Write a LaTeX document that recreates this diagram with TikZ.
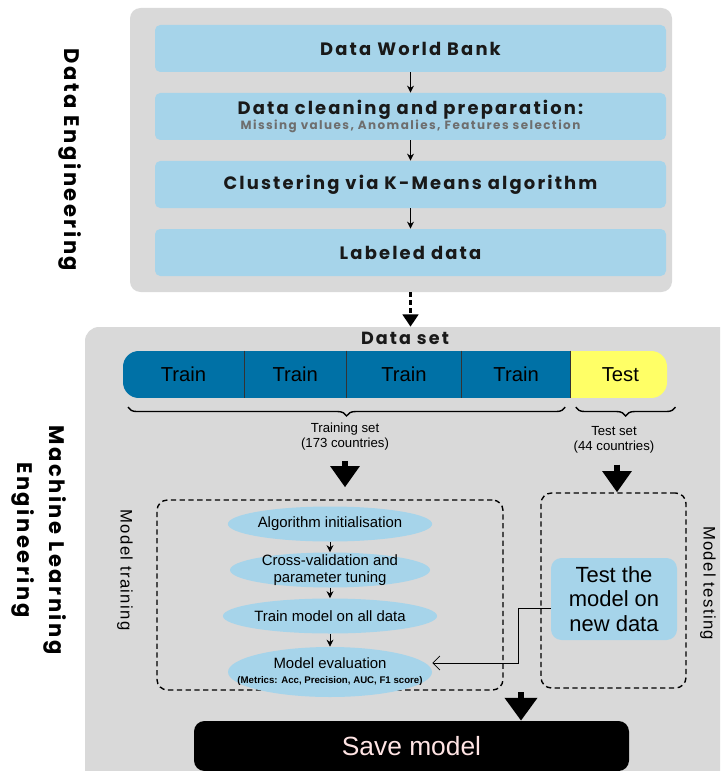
\documentclass[tikz,border=0pt]{standalone}
\usepackage{fontspec}
\setmainfont{Liberation Sans}
\newfontfamily\headfont{Poppins}[LetterSpace=12]
\newfontfamily\sidefont{Liberation Sans}[LetterSpace=8]
\definecolor{panelgrey}{RGB}{217, 217, 217}
\definecolor{skyblue}{RGB}{166, 212, 234}
\definecolor{trainblue}{RGB}{0, 113, 166}
\definecolor{testyellow}{RGB}{255, 255, 102}
\definecolor{titleink}{RGB}{25, 25, 25}
\definecolor{subgrey}{RGB}{110, 110, 110}
\definecolor{saveink}{RGB}{255, 228, 228}
\usepackage{tikz}
\usetikzlibrary{shapes, arrows.meta, positioning, calc, decorations.pathreplacing}

\begin{document}
\begin{tikzpicture}[
    stepbox/.style={fill=skyblue, rounded corners=3pt, minimum width=10.22cm, minimum height=0.94cm, inner sep=0pt, align=center, text=titleink, font=\headfont\bfseries\fontsize{10.2}{10.5}\selectfont},
    phase/.style={ellipse, fill=skyblue, inner sep=0pt, minimum width=4cm, minimum height=0.7cm, align=center, font=\fontsize{8.5}{9.5}\selectfont},
    segment/.style={minimum height=0.94cm, inner sep=0pt, font=\fontsize{11.5}{13}\selectfont},
    bigarrow/.style={line width=3pt, -{Triangle[width=16pt, length=12pt]}},
    smallarrow/.style={thick, -{Stealth[length=4pt, width=4pt]}},
    dashbox/.style={draw, line width=0.8pt, dash pattern=on 3pt off 2pt, rounded corners=6pt},
    sidelabel/.style={rotate=-90, align=center, text=black, font=\headfont\bfseries\fontsize{12}{18}\selectfont},
    caption/.style={rotate=-90, font=\sidefont\fontsize{9.5}{11}\selectfont}
  ]
  \clip (0, 0) rectangle (14.4, -15.42);
  \fill[white] (0, 0) rectangle (14.4, -15.42);

  % Data engineering panel
  \node[fill=panelgrey, rounded corners=6pt, minimum width=10.84cm, minimum height=5.68cm] (depanel) at (8.02, -3.0) {};
  \node[sidelabel] (delabel) at (1.4, -3.2) {Data Engineering};

  \node[stepbox] (worldbank) at (8.21, -0.97) {Data World Bank};
  \node[stepbox] (cleaning) at (8.21, -2.33) {Data cleaning and preparation:\\[-2pt]
    {\color{subgrey}\fontsize{6.8}{7}\selectfont Missing values, Anomalies, Features selection}};
  \node[stepbox] (kmeans) at (8.21, -3.69) {Clustering via K-Means algorithm};
  \node[stepbox] (labeled) at (8.21, -5.05) {Labeled data};
  \draw[smallarrow] (worldbank) -- (cleaning);
  \draw[smallarrow] (cleaning) -- (kmeans);
  \draw[smallarrow] (kmeans) -- (labeled);

  % Machine learning panel
  \node[fill=panelgrey, rounded corners=8pt, minimum width=13.5cm, minimum height=9.46cm] (mlpanel) at (8.45, -11.27) {};
  \node[sidelabel] (mllabel) at (0.78, -10.8) {Machine Learning\\Engineering};
  \draw[line width=1.3pt, dash pattern=on 2.5pt off 2pt, -{Triangle[width=9pt, length=7pt]}] (labeled |- depanel.south) -- (labeled |- mlpanel.north);

  % Data set bar
  \node[font=\headfont\bfseries\fontsize{10}{11}\selectfont, text=titleink] (dataset) at (8.1, -6.76) {Data set};
  \begin{scope}
    \clip[rounded corners=9pt] (2.46, -7.02) rectangle (13.34, -7.96);
    \node[segment, fill=trainblue, minimum width=2.42cm] (train1) at (3.67, -7.49) {Train};
    \node[segment, fill=trainblue, minimum width=2.02cm, right=0pt of train1] (train2) {Train};
    \node[segment, fill=trainblue, minimum width=2.3cm, right=0pt of train2] (train3) {Train};
    \node[segment, fill=trainblue, minimum width=2.16cm, right=0pt of train3] (train4) {Train};
    \node[segment, fill=testyellow, minimum width=1.98cm, right=0pt of train4] (test) {Test};
  \end{scope}
  \foreach \seg in {train1, train2, train3, train4}
    \draw[thin, black!80] (\seg.north east) -- (\seg.south east);

  % Split braces
  \draw[thick, decorate, decoration={brace, mirror, amplitude=5pt}] ([xshift=3pt, yshift=-5pt]train1.south west) -- ([xshift=-3pt, yshift=-5pt]train4.south east);
  \draw[thick, decorate, decoration={brace, mirror, amplitude=5pt}] ([xshift=3pt, yshift=-5pt]test.south west) -- ([xshift=3pt, yshift=-5pt]test.south east);
  \node[align=center, font=\fontsize{7.5}{8.5}\selectfont] (trainlbl) at (6.9, -8.74) {Training set\\(173 countries)};
  \node[align=center, font=\fontsize{7.5}{8.5}\selectfont] (testlbl) at (12.28, -8.8) {Test set\\(44 countries)};

  % Model training
  \node[dashbox, minimum width=6.92cm, minimum height=3.8cm] (trainbox) at (6.6, -11.9) {};
  \node[caption] (traincap) at (2.5, -11.4) {Model training};
  \draw[bigarrow, shorten <=0.08cm, shorten >=0.24cm] (trainlbl.south -| 6.9, 0) -- (6.9, 0 |- trainbox.north);

  \node[phase] (init) at (6.6, -10.48) {Algorithm initialisation};
  \node[phase, inner ysep=-2pt] (tuning) at (6.6, -11.4) {Cross-validation and\\parameter tuning};
  \node[phase] (fitall) at (6.6, -12.32) {Train model on all data};
  \node[phase, inner xsep=-0.45cm, minimum width=4.08cm, minimum height=1.0cm] (evaluation) at (6.6, -13.44) {Model evaluation\\[-1pt]{\bfseries\fontsize{5.5}{6}\selectfont (Metrics: Acc, Precision, AUC, F1 score)}};
  \draw[smallarrow, thin] (init) -- (tuning);
  \draw[smallarrow, thin] (tuning) -- (fitall);
  \draw[smallarrow, thin] (fitall) -- (evaluation);

  % Model testing
  \node[dashbox, minimum width=2.9cm, minimum height=3.9cm] (testbox) at (12.27, -11.81) {};
  \node[caption] (testcap) at (14.16, -11.66) {Model testing};
  \draw[bigarrow, shorten <=0.1cm] (testlbl.south -| 12.34, 0) -- (12.34, 0 |- testbox.north);
  \node[fill=skyblue, rounded corners=6pt, minimum width=2.52cm, minimum height=1.64cm, align=center, font=\fontsize{12.5}{14}\selectfont] (testnew) at (12.28, -11.98) {Test the\\model on\\new data};
  \draw[thin, -{Straight Barb[length=4pt, width=8pt]}] ([yshift=-0.18cm]testnew.west) -- ++(-0.64, 0) |- ([yshift=0.18cm]evaluation.east);

  % Save model
  \node[fill=black, rounded corners=6pt, minimum width=8.7cm, minimum height=1.0cm, text=saveink, font=\fontsize{15}{17}\selectfont] (save) at (8.23, -14.92) {Save model};
  \coordinate (join) at (10.42, -13.84);
  \draw[bigarrow, -{Triangle[width=18pt, length=13pt]}] (join) -- (join |- save.north);
\end{tikzpicture}
\end{document}
